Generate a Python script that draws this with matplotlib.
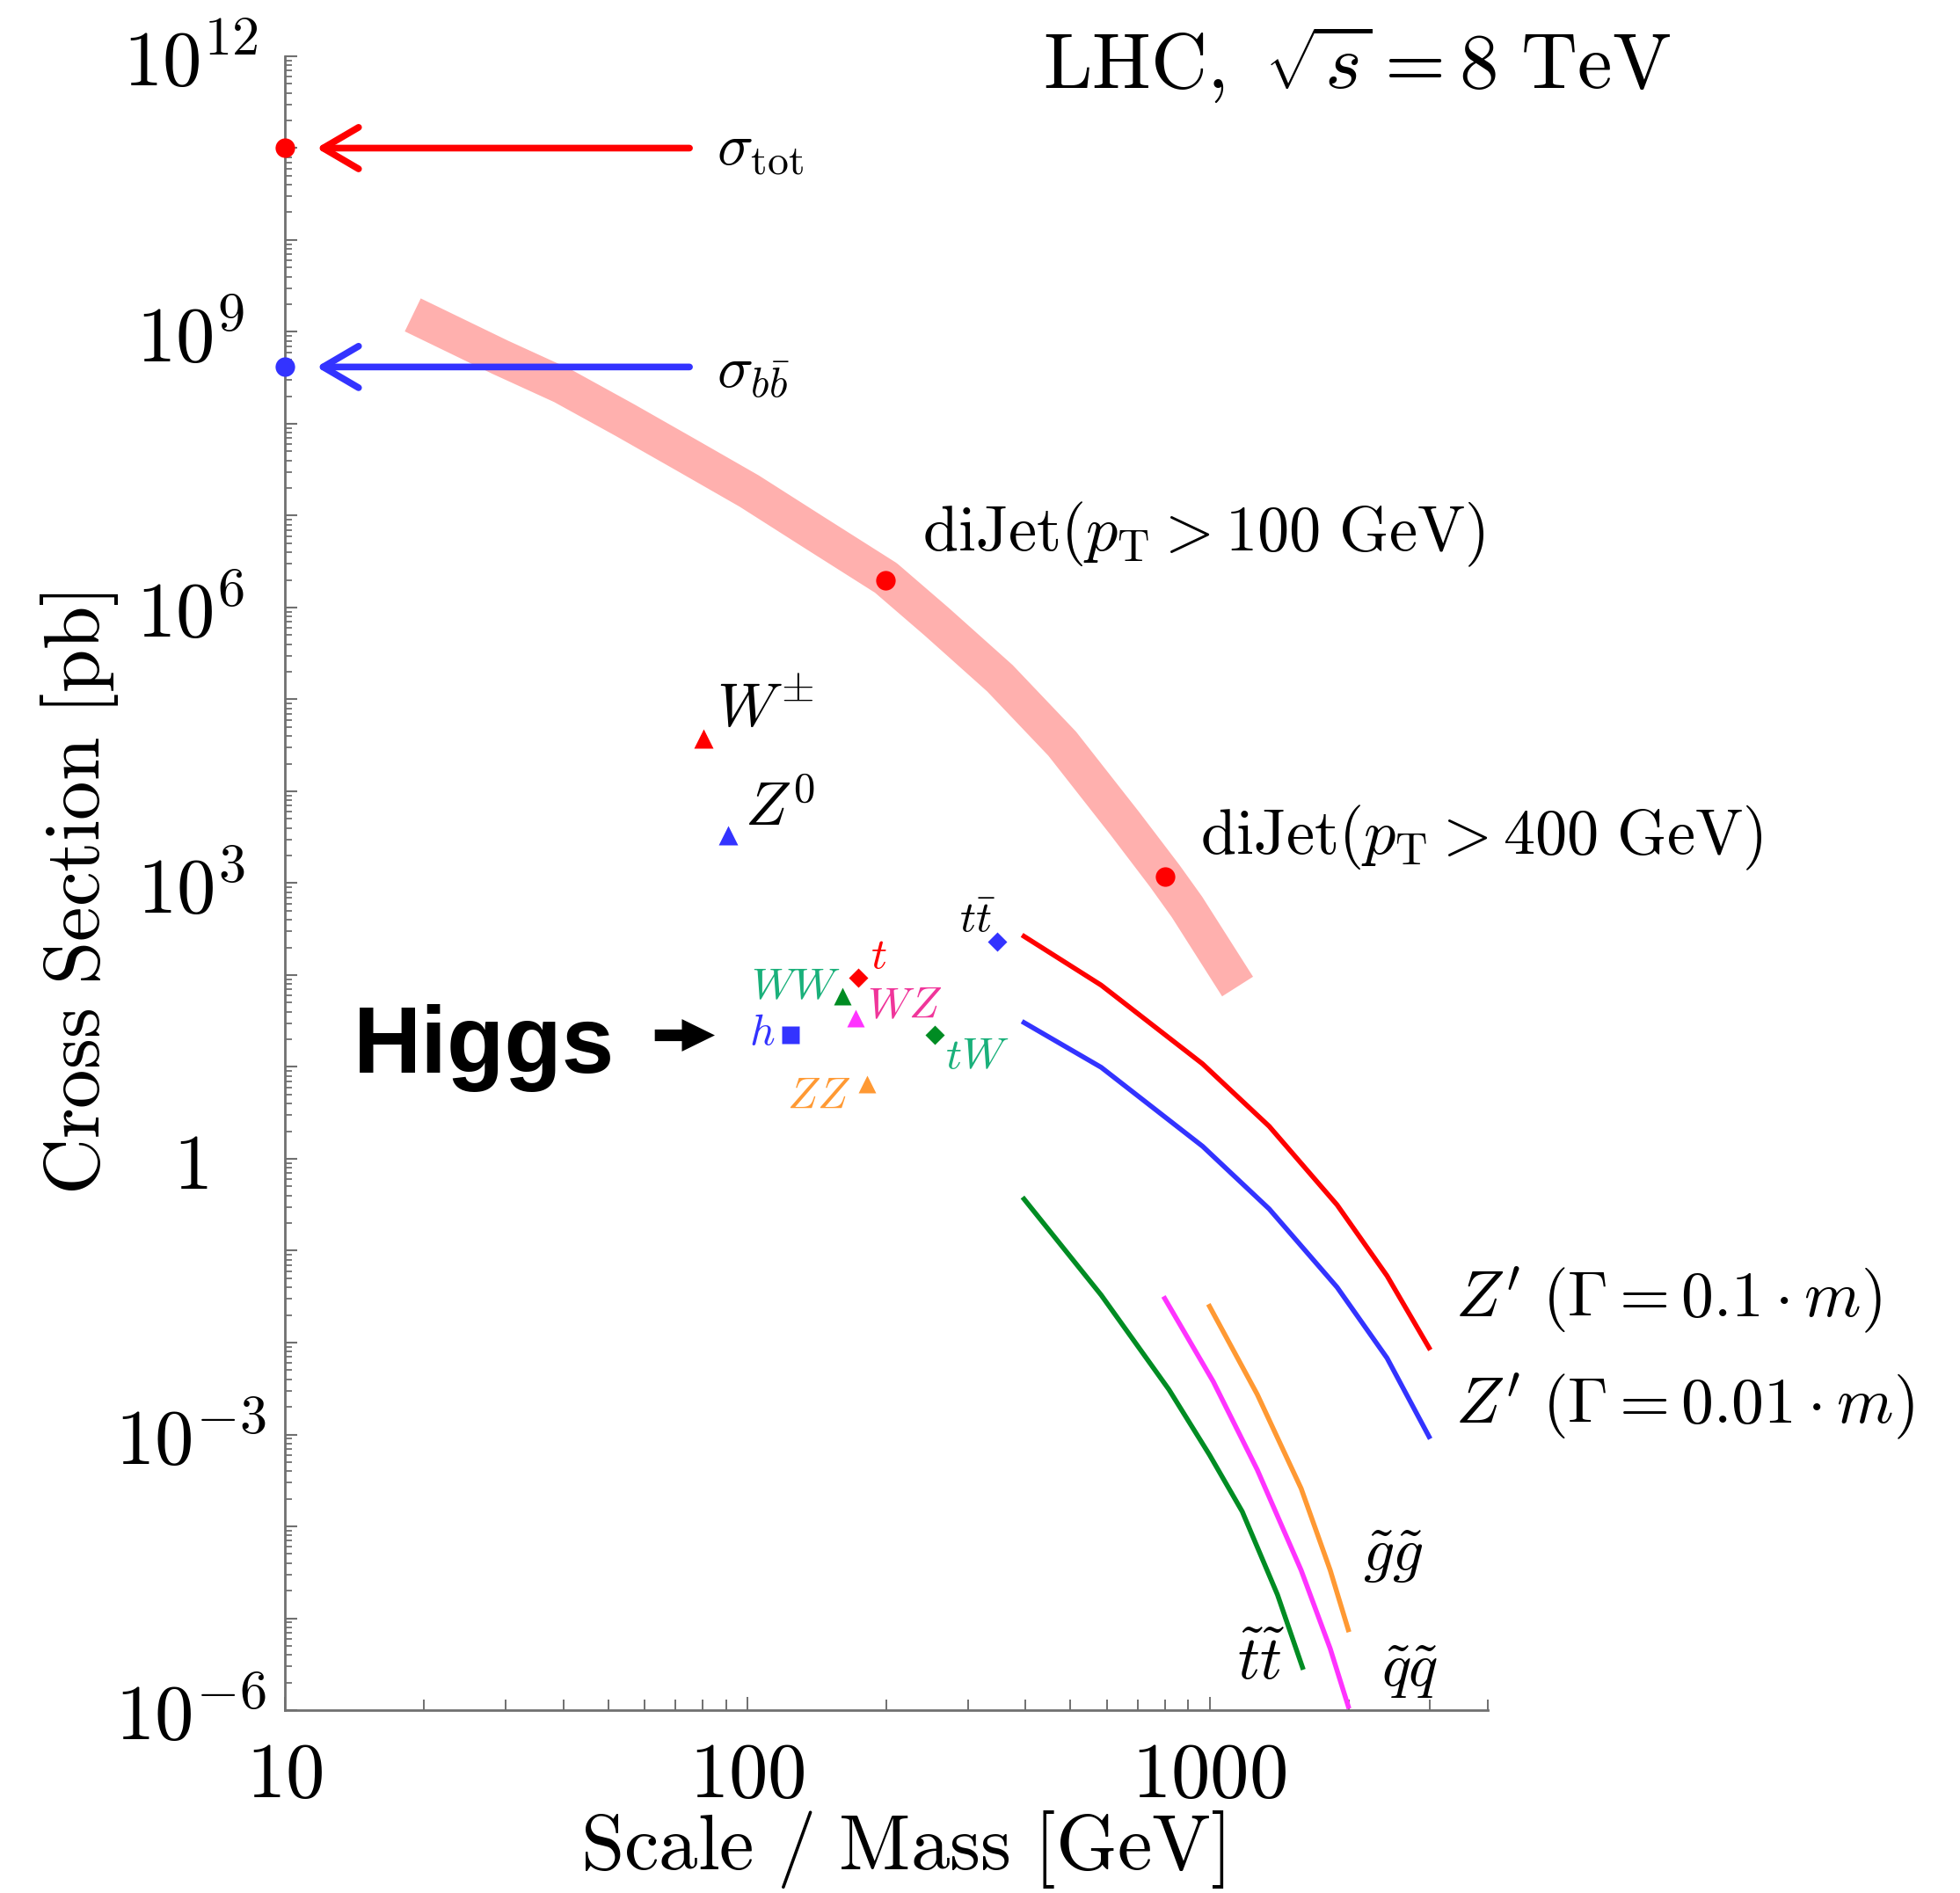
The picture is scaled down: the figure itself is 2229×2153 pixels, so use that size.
import numpy as np
import matplotlib
matplotlib.use("Agg")
import matplotlib.pyplot as plt
import matplotlib.ticker as ticker

plt.rcParams["mathtext.fontset"] = "cm"
plt.rcParams["font.family"] = ["DejaVu Serif"]

# total and b-bbar cross sections at the low end of the axis
sigma_mass = [10, 10]
sigma_xsec = [1.0e11, 4.15e8]

# diJet band (centre line) and the two marked points
dijet_mass = [18.9, 29.2, 39.8, 54.3, 74.2, 101, 138, 199.5, 257, 352, 480, 655, 800, 894, 1150]
dijet_xsec = [1.53e9, 5.3e8, 2.6e8, 1.1e8, 4.5e7, 1.85e7, 6.8e6, 2.1e6, 7.0e5,
              1.7e5, 3.3e4, 4.5e3, 1.2e3, 550, 75]
dijet_pt_mass = [199.5, 800]
dijet_pt_xsec = [1.98e6, 1.19e3]

# Z' curves
zp_mass = [397, 583, 966, 1346, 1888, 2421, 2985]
zp01_xsec = [264, 77.6, 10.8, 2.26, 0.315, 0.0533, 0.00877]
zp001_xsec = [30.4, 9.9, 1.37, 0.285, 0.040, 0.00679, 0.000946]

# SUSY pair production
stop_mass = [397, 583, 817, 1000, 1177, 1403, 1589]
stop_xsec = [0.365, 0.0329, 0.00308, 6.0e-4, 1.45e-4, 1.8e-5, 2.92e-6]
squark_mass = [800, 1019, 1268, 1578, 1824, 1996]
squark_xsec = [0.0302, 0.00376, 4.15e-4, 3.34e-5, 4.68e-6, 1.1e-6]
gluino_mass = [1000, 1268, 1578, 1824, 1996]
gluino_xsec = [0.0248, 0.00274, 2.59e-4, 3.34e-5, 7.5e-6]

# Standard Model processes
proc_names = ["W", "Z", "t", "WW", "WZ", "h", "tW", "ZZ", "ttbar"]
proc_mass = [80.4, 91, 173.6, 160.7, 171.8, 124.2, 254, 181.6, 347]
proc_xsec = [3.75e4, 3.32e3, 94, 58.5, 33.7, 22.5, 22.5, 6.46, 233]

RED = "#ff0000"
BLUE = "#3333ff"
GREEN = "#008c23"
TEAL = "#19b07a"
MAGENTA = "#ff33ff"
PINK = "#f0359a"
ORANGE = "#ff9933"

fig = plt.figure(figsize=(22.29, 21.53), dpi=100)
ax = fig.add_axes([0.1454, 0.0966, 0.6137, 0.8737])
ax.set_xscale("log")
ax.set_yscale("log")
ax.set_xlim(10, 4000)
ax.set_ylim(1e-6, 1e12)

for s in ("top", "right"):
    ax.spines[s].set_visible(False)
for s in ("left", "bottom"):
    ax.spines[s].set_color("#707070")
    ax.spines[s].set_linewidth(2)

# ticks
ax.xaxis.set_major_locator(ticker.FixedLocator([10, 100, 1000]))
ax.xaxis.set_minor_locator(ticker.LogLocator(subs=np.arange(2, 10), numticks=20))
ax.xaxis.set_major_formatter(ticker.FuncFormatter(lambda v, p: "$%d$" % v))
ax.xaxis.set_minor_formatter(ticker.NullFormatter())

ax.yaxis.set_major_locator(ticker.FixedLocator([10.0 ** k for k in range(-6, 13)]))
ax.yaxis.set_minor_locator(ticker.LogLocator(subs=np.arange(2, 10), numticks=40))


def ylab(v, pos):
    e = int(round(np.log10(v)))
    if e % 3 != 0:
        return ""
    if e == 0:
        return "$1$"
    return "$10^{%d}$" % e


ax.yaxis.set_major_formatter(ticker.FuncFormatter(ylab))
ax.yaxis.set_minor_formatter(ticker.NullFormatter())

ax.tick_params(which="both", direction="in", color="#707070", labelcolor="black")
ax.tick_params(axis="x", which="major", length=11, width=1.4, pad=22, labelsize=64)
ax.tick_params(axis="x", which="minor", length=8.5, width=1.4)
ax.tick_params(axis="y", which="major", length=10, width=1.5, pad=77, labelsize=64)
ax.tick_params(axis="y", which="minor", length=6, width=1.3)
for lab in ax.get_yticklabels():
    lab.set_horizontalalignment("center")

ax.set_xlabel(r"$\mathrm{Scale\ /\ Mass\ [GeV]}$", fontsize=64)
ax.xaxis.label.set_va("center")
ax.xaxis.set_label_coords(0.513, -0.0845)
ax.set_ylabel(r"$\mathrm{Cross\ Section\ [pb]}$", fontsize=64)
ax.yaxis.label.set_va("center")
ax.yaxis.set_label_coords(-0.171, 0.494)

ax.text(0.891, 0.9955, r"$\mathrm{LHC},\ \sqrt{s} = 8\ \mathrm{TeV}$",
        transform=ax.transAxes, ha="center", va="center", fontsize=64)

# diJet band
ax.plot(dijet_mass, dijet_xsec, color="#ffb0ae", lw=30, solid_capstyle="butt",
        solid_joinstyle="round", zorder=1)
ax.plot(dijet_pt_mass, dijet_pt_xsec, "o", color=RED, ms=16, mec="none", zorder=5)
ax.text(239, 6.2e6, r"$\mathrm{diJet}(p_{\mathrm{T}} > 100\ \mathrm{GeV})$",
        fontsize=52, ha="left", va="center")
ax.text(953, 3.15e3, r"$\mathrm{diJet}(p_{\mathrm{T}} > 400\ \mathrm{GeV})$",
        fontsize=52, ha="left", va="center")

# sigma_tot / sigma_bb arrows
for xs, col, lab, dy in zip(sigma_xsec, [RED, BLUE],
                            [r"$\sigma_{\mathrm{tot}}$", r"$\sigma_{b\bar{b}}$"],
                            [1.0, 0.9]):
    ax.plot(sigma_mass[0], xs, "o", color=col, ms=16, mec="none", clip_on=False, zorder=5)
    ax.annotate("", xy=(11.7, xs), xytext=(75, xs),
                arrowprops=dict(arrowstyle="->,head_length=1.45,head_width=0.85",
                                color=col, lw=5.5, mutation_scale=20,
                                shrinkA=0, shrinkB=0), zorder=4)
    ax.text(86, xs * dy, lab, fontsize=49, ha="left", va="center")

# curves
ax.plot(zp_mass, zp01_xsec, color=RED, lw=4, zorder=3)
ax.plot(zp_mass, zp001_xsec, color=BLUE, lw=4, zorder=3)
ax.plot(stop_mass, stop_xsec, color=GREEN, lw=4, zorder=3)
ax.plot(squark_mass, squark_xsec, color=MAGENTA, lw=4, zorder=3)
ax.plot(gluino_mass, gluino_xsec, color=ORANGE, lw=4, zorder=3)

ax.text(3404, 0.0291, r"$Z'\ (\Gamma = 0.1\cdot m)$", fontsize=53, ha="left", va="center")
ax.text(3404, 0.00205, r"$Z'\ (\Gamma = 0.01\cdot m)$", fontsize=53, ha="left", va="center")
ax.text(2143, 4.7e-5, r"$\tilde{g}\tilde{g}$", fontsize=50, ha="left", va="center")
ax.text(2350, 2.65e-6, r"$\tilde{q}\tilde{q}$", fontsize=50, ha="left", va="center")
ax.text(1146, 3.3e-6, r"$\tilde{t}\tilde{t}$", fontsize=50, ha="left", va="center")

# SM process markers
styles = {
    "W": ("^", RED, 16), "Z": ("^", BLUE, 16), "t": ("D", RED, 11),
    "WW": ("^", GREEN, 15), "WZ": ("^", MAGENTA, 15), "h": ("s", BLUE, 15),
    "tW": ("D", GREEN, 11), "ZZ": ("^", ORANGE, 15), "ttbar": ("D", BLUE, 11),
}
for name, m, xs in zip(proc_names, proc_mass, proc_xsec):
    mk, col, size = styles[name]
    ax.plot(m, xs, mk, color=col, ms=size, mec="none", zorder=5)

ax.text(85.7, 7.8e4, r"$W^{\pm}$", fontsize=50, ha="left", va="center")
ax.text(98.6, 6.4e3, r"$Z^{0}$", fontsize=50, ha="left", va="center")
ax.text(185, 162, r"$t$", fontsize=36, color=RED, ha="left", va="center")
ax.text(158.6, 73.5, r"$WW$", fontsize=36, color=TEAL, ha="right", va="center")
ax.text(181.5, 46, r"$WZ$", fontsize=36, color=PINK, ha="left", va="center")
ax.text(115, 23.9, r"$h$", fontsize=36, color=BLUE, ha="right", va="center")
ax.text(268, 13, r"$tW$", fontsize=36, color=TEAL, ha="left", va="center")
ax.text(167.5, 4.73, r"$ZZ$", fontsize=36, color=ORANGE, ha="right", va="center")
ax.text(343, 401, r"$t\bar{t}$", fontsize=36, color="black", ha="right", va="center")

# Higgs pointer
ax.text(14.05, 8.67, "Higgs", fontsize=77, fontweight="bold",
        family=["Liberation Sans", "DejaVu Sans"], ha="left", va="baseline")
ax.annotate("", xy=(85.1, 22.1), xytext=(63.1, 22.1),
            arrowprops=dict(arrowstyle="simple,head_length=2.7,head_width=2.65,tail_width=0.95",
                            color="black", lw=0, mutation_scale=10,
                            shrinkA=0, shrinkB=0))

fig.savefig("out.png", dpi=100)
